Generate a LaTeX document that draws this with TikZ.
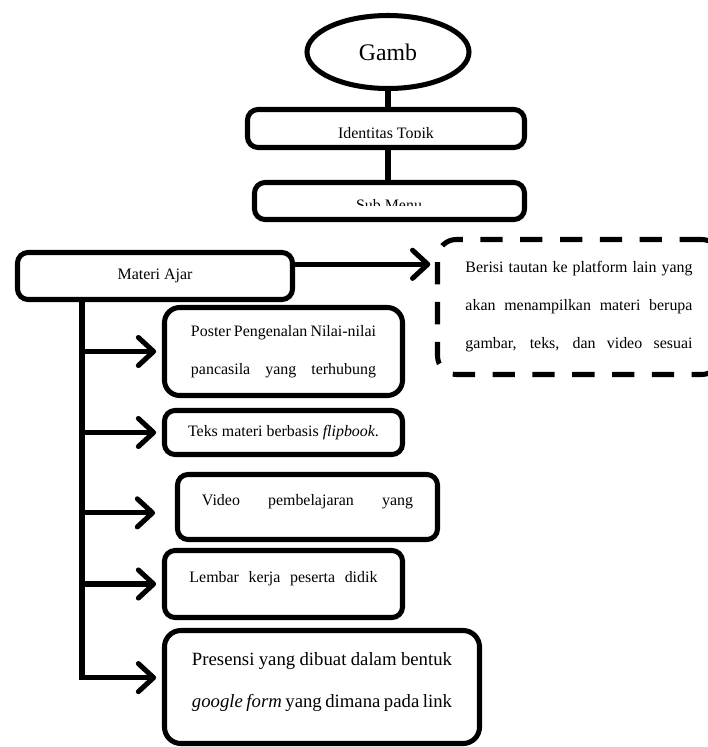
\documentclass[tikz,border=0pt]{standalone}
\usepackage{fontspec}
\setmainfont{Liberation Serif}
\usetikzlibrary{shapes.geometric, arrows.meta, positioning}
\newcommand{\rata}[2]{\makebox[#1][s]{#2}}

\begin{document}
\begin{tikzpicture}[
  x=0.03cm, y=-0.03cm,
  every node/.style={font=\fontsize{13.6}{32.4}\selectfont},
  box/.style={rectangle, rounded corners=9pt, draw, line width=4.3pt,
              inner sep=0pt, align=center},
  oval/.style={ellipse, draw, line width=4.3pt, inner sep=0pt,
               font=\fontsize{20.3}{24}\selectfont},
  putus/.style={box, rounded corners=16pt, dash pattern=on 19pt off 15pt},
  garis/.style={line width=4.3pt},
  arrow/.style={-{Straight Barb[length=13pt,width=24pt,round]}, line width=4.3pt}
]
\useasboundingbox (0,0) rectangle (708,747);
\clip (0,0) rectangle (708,747);

% Judul dan menu atas
\node[oval, minimum width=4.86cm, minimum height=2.19cm] (gamb) at (388,52) {Gamb};
\node[box, minimum width=8.31cm, minimum height=1.14cm] (ident) at (386,128.5) {};
\node[box, minimum width=8.1cm, minimum height=1.11cm]  (sub) at (389.5,201) {};

% Materi ajar
\node[box, minimum width=8.25cm, minimum height=1.41cm] (materi) at (155,276) {Materi Ajar};
\node[putus, minimum width=8.49cm, minimum height=4.05cm] (info) at (579,307)
  {\rata{6.81cm}{Berisi tautan ke platform lain yang}\\
   \rata{6.81cm}{akan menampilkan materi berupa}\\
   \rata{6.81cm}{gambar, teks, dan video sesuai}};

% Isi materi
\node[box, rounded corners=13pt, minimum width=7.14cm, minimum height=2.64cm] (poster) at (283.5,351.5)
  {\rata{5.55cm}{Poster Pengenalan Nilai-nilai}\\ \rata{5.55cm}{pancasila yang terhubung}};
\node[box, minimum width=7.14cm, minimum height=1.32cm] (teks) at (283.5,432.5)
  {Teks materi berbasis \textit{flipbook}.};
\node[box, minimum width=7.8cm, minimum height=1.95cm, text depth=12.5pt] (video) at (307.5,507)
  {\rata{6.33cm}{Video pembelajaran yang}};
\node[box, minimum width=7.14cm, minimum height=2.01cm, text depth=12.5pt] (lembar) at (283.5,584)
  {\rata{5.64cm}{Lembar kerja peserta didik}};
\node[box, rounded corners=14pt, minimum width=9.45cm, minimum height=3.39cm, text depth=12pt,
      font=\fontsize{16}{35.9}\selectfont] (presensi) at (322,687)
  {\rata{7.8cm}{Presensi yang dibuat dalam bentuk}\\
   \rata{7.8cm}{\textit{google form} yang dimana pada link}};

% Teks yang terpotong
\begin{scope}
  \clip (245,107) rectangle (527,137);
  \node[anchor=base] (identtxt) at (386,138) {Identitas Topik};
\end{scope}
\begin{scope}
  \clip (252,180) rectangle (527,205);
  \node[anchor=base] (subtxt) at (389,210) {Sub Menu};
\end{scope}

% Garis penghubung
\draw[garis] (gamb.south) -- (gamb.south |- ident.north);
\draw[garis] (gamb.south |- ident.south) -- (gamb.south |- sub.north);
\draw[arrow, shorten >=4pt] ([yshift=10pt]materi.east) -- ([yshift=10pt]materi.east -| info.west);

\coordinate (trunk) at (82,300);
\draw[arrow, shorten >=5pt] (trunk |- poster.west) -- (poster.west);
\draw[arrow, shorten >=5pt] (trunk |- teks.west) -- (teks.west);
\draw[arrow, shorten >=17pt] ([yshift=-5pt]trunk |- video.west) -- ([yshift=-5pt]video.west);
\draw[arrow, shorten >=5pt] (trunk |- lembar.west) -- (lembar.west);
\draw[arrow, shorten >=5pt] (trunk) |- ([yshift=8pt]presensi.west);

\end{tikzpicture}
\end{document}
